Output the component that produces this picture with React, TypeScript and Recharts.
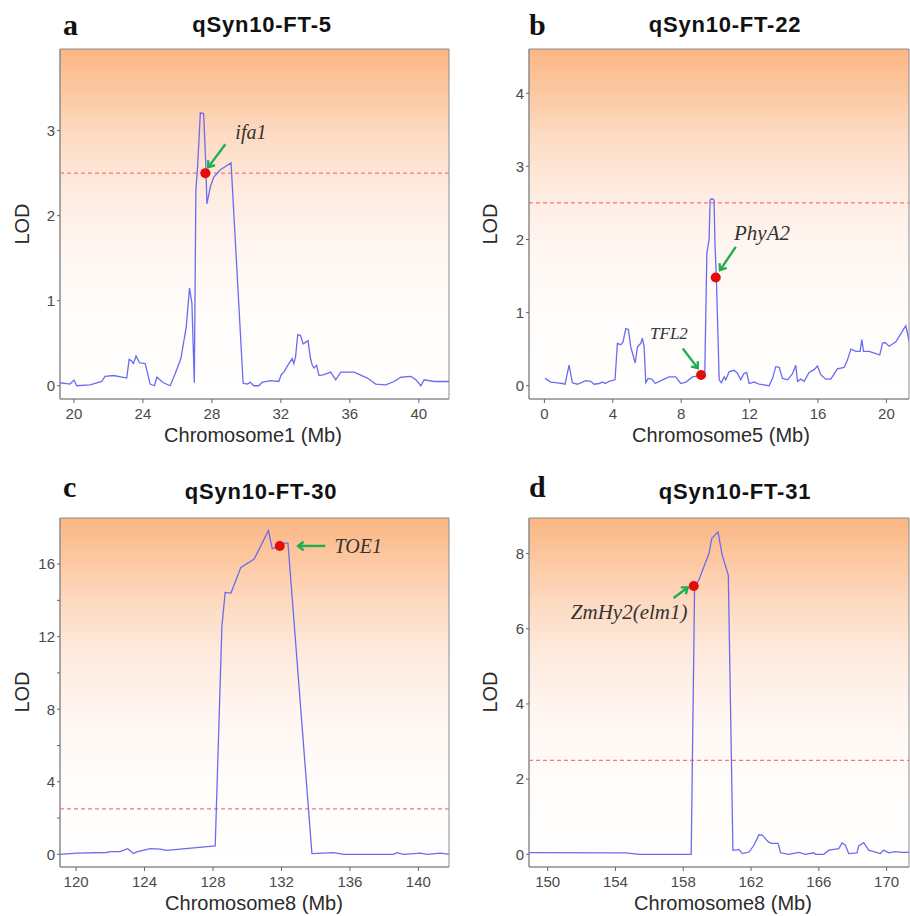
import React from 'react';
import {
  LineChart,
  Line,
  XAxis,
  YAxis,
  CartesianGrid,
  ReferenceLine,
  ReferenceDot,
  ReferenceArea,
} from 'recharts';

// LOD profiles (position in Mb, LOD score)
const chr1Pos = [
  19.19, 19.77, 20.0, 20.16, 20.93, 21.61, 21.8, 22.29, 23.06, 23.2,
  23.35, 23.45, 23.6, 23.8, 24.13, 24.42, 24.67, 24.81, 25.19, 25.58,
  25.87, 26.2, 26.51, 26.7, 26.84, 26.98, 27.07, 27.17, 27.33, 27.52,
  27.65, 27.71, 27.91, 28.1, 28.49, 29.11, 29.81, 30.04, 30.23, 30.43,
  30.72, 30.91, 31.4, 31.88, 32.02, 32.17, 32.46, 32.66, 32.75, 32.85,
  32.98, 33.14, 33.29, 33.57, 33.72, 33.82, 33.92, 34.07, 34.21, 34.5,
  34.89, 35.18, 35.47, 36.24, 37.02, 37.5, 38.08, 38.57, 38.96, 39.54,
  39.83, 40.12, 40.31, 40.89, 41.76,
];
const lodFT5 = [
  0.035, 0.02, 0.067, 0.0, 0.01, 0.05, 0.11, 0.12, 0.09, 0.31,
  0.29, 0.26, 0.35, 0.27, 0.26, 0.02, 0.0, 0.1, 0.035, 0.0,
  0.14, 0.32, 0.69, 1.15, 0.97, 0.035, 2.3, 2.58, 3.21, 3.2,
  2.58, 2.14, 2.34, 2.45, 2.54, 2.62, 0.03, 0.02, 0.04, 0.0,
  0.0, 0.04, 0.06, 0.05, 0.13, 0.16, 0.26, 0.32, 0.26, 0.34,
  0.6, 0.59, 0.49, 0.53, 0.32, 0.24, 0.21, 0.24, 0.12, 0.13,
  0.16, 0.07, 0.16, 0.16, 0.09, 0.02, 0.01, 0.05, 0.1, 0.11,
  0.07, 0.0, 0.07, 0.05, 0.05,
];

const chr5Pos = [
  0.04, 0.37, 0.76, 1.05, 1.21, 1.44, 1.64, 1.93, 2.42, 2.71,
  2.91, 3.2, 3.39, 3.55, 3.78, 4.13, 4.27, 4.47, 4.6, 4.76,
  4.91, 5.05, 5.31, 5.44, 5.64, 5.73, 5.83, 5.93, 6.07, 6.28,
  6.48, 6.9, 7.29, 7.68, 7.97, 8.27, 8.66, 9.15, 9.38, 9.5,
  9.63, 9.69, 9.79, 9.92, 9.98, 10.06, 10.22, 10.35, 10.51, 10.61,
  10.8, 11.09, 11.29, 11.48, 11.68, 11.83, 11.97, 12.26, 12.56, 13.14,
  13.34, 13.53, 13.73, 13.92, 14.22, 14.5, 14.7, 14.8, 14.99, 15.19,
  15.48, 15.77, 15.97, 16.16, 16.45, 16.75, 17.13, 17.53, 17.72, 17.92,
  18.21, 18.46, 18.56, 18.66, 18.99, 19.38, 19.61, 19.77, 19.92, 20.16,
  20.55, 20.84, 21.13, 21.39,
];
const lodFT22 = [
  0.1, 0.05, 0.04, 0.03, 0.02, 0.28, 0.04, 0.02, 0.07, 0.06,
  0.02, 0.03, 0.05, 0.03, 0.06, 0.08, 0.58, 0.56, 0.6, 0.78,
  0.77, 0.53, 0.31, 0.53, 0.58, 0.65, 0.53, 0.04, 0.1, 0.09,
  0.03, 0.08, 0.12, 0.12, 0.03, 0.05, 0.12, 0.14, 0.19, 1.81,
  2.0, 2.54, 2.56, 2.54, 1.9, 1.45, 0.08, 0.04, 0.12, 0.08,
  0.19, 0.21, 0.17, 0.08, 0.17, 0.18, 0.03, 0.05, 0.02, 0.0,
  0.1, 0.26, 0.25, 0.1, 0.08, 0.16, 0.28, 0.06, 0.09, 0.06,
  0.18, 0.22, 0.27, 0.15, 0.09, 0.09, 0.23, 0.25, 0.35, 0.5,
  0.47, 0.47, 0.63, 0.47, 0.47, 0.44, 0.42, 0.58, 0.59, 0.54,
  0.6, 0.71, 0.82, 0.55,
];

const chr8PosC = [
  119.06, 120.04, 121.79, 121.99, 122.57, 123.02, 123.35, 123.55, 124.33, 124.91,
  125.3, 128.13, 128.52, 128.71, 129.05, 129.63, 130.41, 131.24, 131.46, 131.89,
  132.16, 132.38, 133.78, 135.05, 135.63, 138.55, 138.75, 139.14, 140.12, 140.51,
  141.29, 141.78,
];
const lodFT30 = [
  0.0, 0.07, 0.1, 0.15, 0.15, 0.31, 0.04, 0.13, 0.31, 0.29,
  0.22, 0.46, 12.56, 14.44, 14.4, 15.82, 16.28, 17.85, 16.85, 16.97,
  17.16, 17.16, 0.04, 0.09, 0.0, 0.0, 0.09, 0.0, 0.07, 0.0,
  0.07, 0.0,
];

const chr8PosD = [
  148.9, 154.6, 155.4, 158.14, 158.47, 158.67, 158.93, 159.52, 159.68, 160.05,
  160.3, 160.66, 160.93, 161.13, 161.29, 161.48, 161.88, 162.17, 162.47, 162.66,
  163.02, 163.21, 163.6, 163.74, 164.23, 164.82, 165.21, 165.7, 165.8, 166.29,
  166.59, 167.18, 167.37, 167.57, 167.76, 168.25, 168.35, 168.65, 168.94, 169.24,
  169.63, 169.83, 170.12, 170.51, 170.9, 171.35,
];
const lodFT31 = [
  0.045, 0.04, 0.0, 0.0, 0.0, 7.11, 7.31, 8.0, 8.4, 8.58,
  7.96, 7.42, 0.11, 0.11, 0.13, 0.02, 0.06, 0.24, 0.52, 0.51,
  0.33, 0.29, 0.29, 0.04, 0.0, 0.05, 0.0, 0.04, 0.0, 0.0,
  0.11, 0.15, 0.3, 0.24, 0.02, 0.04, 0.22, 0.31, 0.11, 0.07,
  0.02, 0.11, 0.04, 0.07, 0.05, 0.05,
];

// axis ticks
const ticksXA = [20, 24, 28, 32, 36, 40];
const ticksXB = [0, 4, 8, 12, 16, 20];
const ticksXC = [120, 124, 128, 132, 136, 140];
const ticksXD = [150, 154, 158, 162, 166, 170];
const ticksYA = [0, 1, 2, 3];
const ticksYB = [0, 1, 2, 3, 4];
const ticksYC = [0, 2, 4, 6, 8, 10, 12, 14, 16];
const ticksYD = [0, 2, 4, 6, 8];

const THRESHOLD = 2.5;

// candidate genes: [name, markerX, markerY, arrowFromX, arrowFromY, arrowToX, arrowToY, textX, textY]
const genesA = [['ifa1', 27.62, 2.5, 28.78, 2.84, 27.79, 2.57, 29.36, 2.9]];
const genesB = [
  ['TFL2', 9.16, 0.146, 8.09, 0.51, 8.97, 0.24, 6.18, 0.635],
  ['PhyA2', 10.02, 1.48, 11.19, 1.9, 10.27, 1.58, 11.09, 1.99],
];
const genesC = [['TOE1', 131.9, 17.0, 134.56, 17.0, 132.97, 17.0, 135.1, 16.61]];
const genesD = [['ZmHy2(elm1)', 158.62, 7.14, 157.43, 6.82, 158.27, 7.1, 158.25, 6.27]];

const GREEN = '#1fae50';
const LINE_BLUE = '#6b6bf2';
const SANS = "Arial, 'Liberation Sans', sans-serif";
const SERIF = "'Times New Roman', 'Liberation Serif', serif";

function ArrowShape(p: any) {
  const { x1, y1, x2, y2 } = p;
  const a = Math.atan2(y2 - y1, x2 - x1);
  const h = 7;
  const w1x = x2 - h * Math.cos(a - 0.65);
  const w1y = y2 - h * Math.sin(a - 0.65);
  const w2x = x2 - h * Math.cos(a + 0.65);
  const w2y = y2 - h * Math.sin(a + 0.65);
  return (
    <g>
      <line x1={x1} y1={y1} x2={x2 - Math.cos(a)} y2={y2 - Math.sin(a)} stroke={GREEN} strokeWidth={2.4} />
      <polyline
        points={`${w1x},${w1y} ${x2},${y2} ${w2x},${w2y}`}
        fill="none"
        stroke={GREEN}
        strokeWidth={2.4}
      />
    </g>
  );
}

function Panel({ id, left, top, margin, pos, lod, xDomain, yDomain, xTicks, yTicks, yFmt, genes, textSize }: any) {
  const data = pos.map((x: number, i: number) => ({ x, lod: lod[i] }));
  return (
    <div style={{ position: 'absolute', left, top }}>
      <LineChart width={455} height={458} data={data} margin={margin}>
        <defs>
          <linearGradient id={`bg-${id}`} x1="0" y1="0" x2="0" y2="1">
            <stop offset="0%" stopColor="#fbb683" />
            <stop offset="12%" stopColor="#fcc8a1" />
            <stop offset="25%" stopColor="#fddbc3" />
            <stop offset="40%" stopColor="#feebdf" />
            <stop offset="55%" stopColor="#fff5ef" />
            <stop offset="75%" stopColor="#fffcfa" />
            <stop offset="100%" stopColor="#ffffff" />
          </linearGradient>
        </defs>
        <CartesianGrid horizontal={false} vertical={false} fill={`url(#bg-${id})`} />
        <XAxis
          dataKey="x"
          type="number"
          domain={xDomain}
          ticks={xTicks}
          allowDataOverflow
          height={30}
          tickSize={4}
          tickMargin={5}
          axisLine={{ stroke: '#8c8c8c' }}
          tickLine={{ stroke: '#666' }}
          tick={{ fill: '#4a4a4a', fontSize: 15, fontFamily: SANS }}
        />
        <YAxis
          type="number"
          domain={yDomain}
          ticks={yTicks}
          allowDataOverflow
          width={40}
          tickSize={3}
          tickMargin={2}
          tickFormatter={yFmt}
          axisLine={{ stroke: '#8c8c8c' }}
          tickLine={{ stroke: '#666' }}
          tick={{ fill: '#4a4a4a', fontSize: 15, fontFamily: SANS }}
        />
        <ReferenceArea
          x1={xDomain[0]}
          x2={xDomain[1]}
          y1={yDomain[0]}
          y2={yDomain[1]}
          ifOverflow="visible"
          fill="none"
          stroke="#8c8c8c"
          strokeWidth={1}
        />
        <ReferenceLine y={THRESHOLD} stroke="#ef7a7a" strokeDasharray="4 3" strokeWidth={1.3} />
        <Line
          type="linear"
          dataKey="lod"
          stroke={LINE_BLUE}
          strokeWidth={1.3}
          dot={false}
          activeDot={false}
          isAnimationActive={false}
        />
        {genes.map((g: any[], i: number) => (
          <ReferenceLine
            key={`arr-${i}`}
            segment={[
              { x: g[3], y: g[4] },
              { x: g[5], y: g[6] },
            ]}
            ifOverflow="visible"
            shape={ArrowShape}
          />
        ))}
        {genes.map((g: any[], i: number) => (
          <ReferenceDot
            key={`dot-${i}`}
            x={g[1]}
            y={g[2]}
            r={5}
            fill="#e60b0b"
            stroke="none"
            ifOverflow="visible"
          />
        ))}
        {genes.map((g: any[], i: number) => (
          <ReferenceDot
            key={`txt-${i}`}
            x={g[7]}
            y={g[8]}
            r={1}
            ifOverflow="visible"
            shape={(p: any) => (
              <text
                x={p.cx}
                y={p.cy}
                textAnchor={g[0] === 'ZmHy2(elm1)' ? 'end' : 'start'}
                fontFamily={SERIF}
                fontStyle="italic"
                fontSize={g[0] === 'TFL2' ? 17 : textSize}
                fill="#333"
              >
                {g[0]}
              </text>
            )}
          />
        ))}
      </LineChart>
    </div>
  );
}

const every4 = (v: number) => (v % 4 === 0 ? String(v) : '');

export default function App() {
  const titleProps = { fontFamily: SANS, fontWeight: 700, fontSize: 22, letterSpacing: 0.8, fill: '#111', textAnchor: 'middle' as const };
  const letterProps = { fontFamily: SERIF, fontWeight: 700, fontSize: 30, fill: '#111' };
  const axisProps = { fontFamily: SANS, fontSize: 20, fill: '#2b2b2b', textAnchor: 'middle' as const };
  return (
    <div style={{ position: 'absolute', left: 0, top: 0, width: 910, height: 916, background: '#fff' }}>
      <Panel
        id="a"
        left={0}
        top={0}
        margin={{ top: 49, right: 6, bottom: 29, left: 20 }}
        pos={chr1Pos}
        lod={lodFT5}
        xDomain={[19.19, 41.75]}
        yDomain={[-0.156, 3.96]}
        xTicks={ticksXA}
        yTicks={ticksYA}
        genes={genesA}
        textSize={20}
      />
      <Panel
        id="b"
        left={455}
        top={0}
        margin={{ top: 49, right: 1, bottom: 29, left: 34 }}
        pos={chr5Pos}
        lod={lodFT22}
        xDomain={[-0.9, 21.32]}
        yDomain={[-0.182, 4.606]}
        xTicks={ticksXB}
        yTicks={ticksYB}
        genes={genesB}
        textSize={21}
      />
      <Panel
        id="c"
        left={0}
        top={458}
        margin={{ top: 60, right: 6, bottom: 19, left: 20 }}
        pos={chr8PosC}
        lod={lodFT30}
        xDomain={[119.06, 141.79]}
        yDomain={[-0.7, 18.54]}
        xTicks={ticksXC}
        yTicks={ticksYC}
        yFmt={every4}
        genes={genesC}
        textSize={20}
      />
      <Panel
        id="d"
        left={455}
        top={458}
        margin={{ top: 60, right: 1, bottom: 19, left: 34 }}
        pos={chr8PosD}
        lod={lodFT31}
        xDomain={[148.9, 171.32]}
        yDomain={[-0.338, 8.947]}
        xTicks={ticksXD}
        yTicks={ticksYD}
        genes={genesD}
        textSize={21}
      />
      <svg
        width={910}
        height={916}
        style={{ position: 'absolute', left: 0, top: 0, pointerEvents: 'none' }}
      >
        <text x={63} y={35} {...letterProps}>a</text>
        <text x={529} y={35} {...letterProps}>b</text>
        <text x={63} y={497} {...letterProps}>c</text>
        <text x={529} y={497} {...letterProps}>d</text>

        <text x={262} y={32} {...titleProps}>qSyn10-FT-5</text>
        <text x={725} y={32} {...titleProps}>qSyn10-FT-22</text>
        <text x={261} y={499} {...titleProps}>qSyn10-FT-30</text>
        <text x={735} y={499} {...titleProps}>qSyn10-FT-31</text>

        <text x={253} y={442} {...axisProps}>Chromosome1 (Mb)</text>
        <text x={721} y={442} {...axisProps}>Chromosome5 (Mb)</text>
        <text x={254} y={910} {...axisProps}>Chromosome8 (Mb)</text>
        <text x={723} y={910} {...axisProps}>Chromosome8 (Mb)</text>

        <text x={22} y={224} dominantBaseline="central" transform="rotate(-90 22 224)" {...axisProps}>LOD</text>
        <text x={490} y={224} dominantBaseline="central" transform="rotate(-90 490 224)" {...axisProps}>LOD</text>
        <text x={22} y={692} dominantBaseline="central" transform="rotate(-90 22 692)" {...axisProps}>LOD</text>
        <text x={490} y={692} dominantBaseline="central" transform="rotate(-90 490 692)" {...axisProps}>LOD</text>
      </svg>
    </div>
  );
}
